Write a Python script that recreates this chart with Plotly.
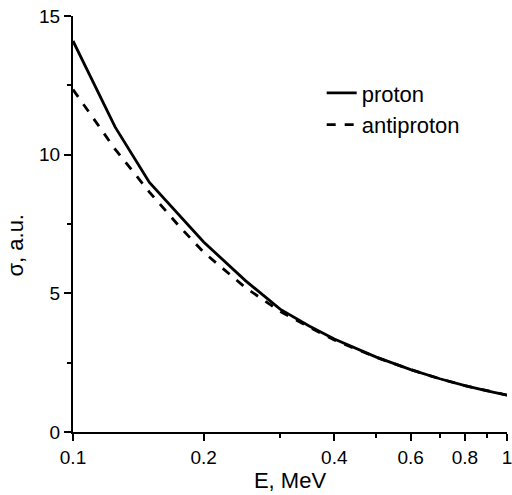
import plotly.graph_objects as go

energy = [0.1, 0.125, 0.15, 0.175, 0.2, 0.25, 0.3, 0.35, 0.4, 0.5, 0.6, 0.7, 0.8, 0.9, 1.0]
proton = [14.1, 11.0, 9.0, 7.85, 6.85, 5.45, 4.43, 3.82, 3.35, 2.70, 2.25, 1.92, 1.67, 1.48, 1.33]
antiproton = [12.35, 10.2, 8.65, 7.45, 6.48, 5.2, 4.35, 3.78, 3.32, 2.69, 2.25, 1.92, 1.67, 1.48, 1.33]

x_major = [0.1, 0.2, 0.4, 0.6, 0.8, 1]
x_major_text = ["0.1", "0.2", "0.4", "0.6", "0.8", "1"]
x_minor = [0.3, 0.5, 0.7, 0.9]

family = "Liberation Sans, Arial, sans-serif"
tick_font = dict(family=family, size=19, color="black")
title_font = dict(family=family, size=22, color="black")

fig = go.Figure()
fig.add_trace(go.Scatter(x=energy, y=proton, mode="lines", name="proton",
                         line=dict(color="black", width=2.8)))
fig.add_trace(go.Scatter(x=energy, y=antiproton, mode="lines", name="antiproton",
                         line=dict(color="black", width=2.8, dash="dash")))

fig.update_layout(
    width=512, height=495,
    margin=dict(l=73, r=5, t=16, b=63),
    paper_bgcolor="white", plot_bgcolor="white",
    font=tick_font,
    showlegend=True,
    legend=dict(x=0.573, y=0.865, xanchor="left", yanchor="top",
                bgcolor="rgba(0,0,0,0)", font=title_font, tracegroupgap=0),
    xaxis=dict(type="log", range=[-1, 0], showgrid=False, zeroline=False,
               automargin=False, ticklabeloverflow="allow",
               showline=True, linecolor="black", linewidth=2,
               ticks="outside", ticklen=7, tickwidth=2, tickcolor="black",
               tickfont=tick_font,
               tickmode="array", tickvals=x_major, ticktext=x_major_text,
               minor=dict(tickmode="array", tickvals=x_minor, ticks="outside",
                          ticklen=4, tickwidth=2, tickcolor="black", showgrid=False),
               title=dict(text="E, MeV", font=title_font, standoff=2)),
    yaxis=dict(range=[0, 15], showgrid=False, zeroline=False,
               automargin=False, ticklabeloverflow="allow",
               showline=True, linecolor="black", linewidth=2,
               ticks="outside", ticklen=7, tickwidth=2, tickcolor="black",
               tickfont=tick_font,
               tickmode="linear", tick0=0, dtick=5,
               minor=dict(tickmode="linear", tick0=2.5, dtick=5, ticks="outside",
                          ticklen=4, tickwidth=2, tickcolor="black", showgrid=False)),
    annotations=[dict(text="σ, a.u.", textangle=-90, font=title_font,
                      xref="paper", yref="paper", x=-0.132, y=0.45,
                      xanchor="center", yanchor="middle", showarrow=False)],
)

fig.write_html("out.html", config={"displayModeBar": False},
               post_script="document.body.style.margin='0';")
